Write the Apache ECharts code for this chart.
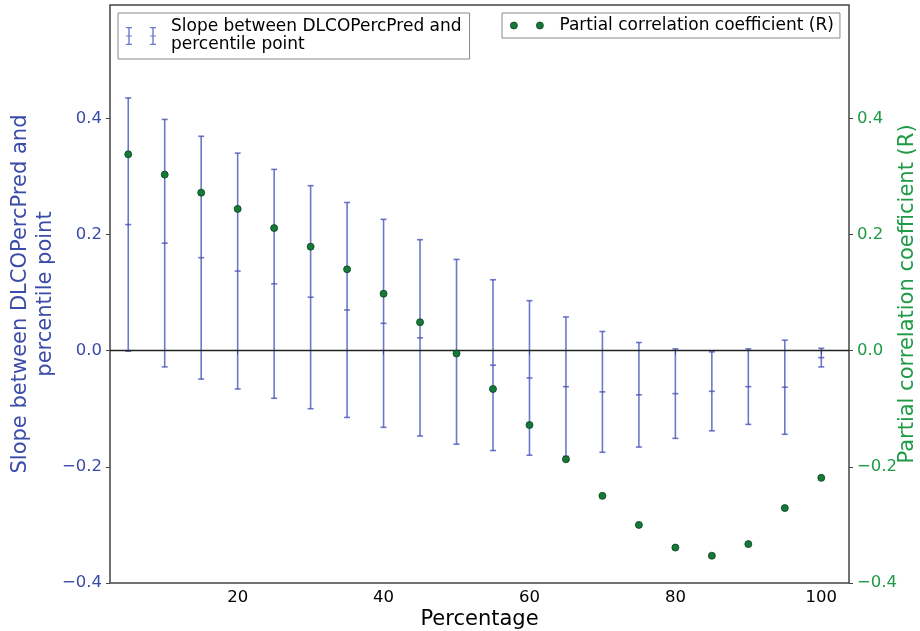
<!DOCTYPE html>
<html>
<head>
<meta charset="utf-8">
<script src="https://cdn.jsdelivr.net/npm/echarts@6/dist/echarts.min.js"></script>
<style>
  html, body { margin: 0; padding: 0; background: #fff; }
  #main { width: 920px; height: 631px; }
</style>
</head>
<body>
<div id="main"></div>
<script>
var percentiles = [5, 10, 15, 20, 25, 30, 35, 40, 45, 50, 55, 60, 65, 70, 75, 80, 85, 90, 95, 100];
// slope estimate (middle tick) and half-length of its error bar
var slopeCenter = [0.217, 0.185, 0.160, 0.137, 0.115, 0.092, 0.070, 0.047, 0.022, -0.002,
                   -0.025, -0.047, -0.062, -0.071, -0.076, -0.074, -0.070, -0.062, -0.063, -0.012];
var slopeError = [0.218, 0.213, 0.209, 0.203, 0.197, 0.192, 0.185, 0.179, 0.169, 0.159,
                  0.147, 0.133, 0.120, 0.104, 0.090, 0.077, 0.068, 0.065, 0.081, 0.016];
var partialR = [0.338, 0.303, 0.272, 0.244, 0.211, 0.179, 0.140, 0.098, 0.049, -0.005,
                -0.066, -0.128, -0.187, -0.250, -0.300, -0.339, -0.353, -0.333, -0.271, -0.219];
var xTicks = [20, 40, 60, 80, 100];
var yTicks = [-0.4, -0.2, 0.0, 0.2, 0.4];

var slopeName = 'Slope between DLCOPercPred and percentile point';
var rName = 'Partial correlation coefficient (R)';
var font = 'DejaVu Sans';
var blue = '#3b4ba8';
var green = '#1f9a45';
var barColor = 'rgba(60, 76, 182, 0.75)';

var errData = percentiles.map(function (p, i) {
    return [p, slopeCenter[i], slopeError[i]];
});
var rData = percentiles.map(function (p, i) {
    return [p, partialR[i]];
});

function renderErrorBar(params, api) {
    var x = api.value(0), c = api.value(1), e = api.value(2);
    var top = api.coord([x, c + e]);
    var mid = api.coord([x, c]);
    var bot = api.coord([x, c - e]);
    var hw = 3;
    var style = { stroke: barColor, lineWidth: 1.6 };
    return {
        type: 'group',
        children: [
            { type: 'line', shape: { x1: top[0], y1: top[1], x2: bot[0], y2: bot[1] }, style: style },
            { type: 'line', shape: { x1: top[0] - hw, y1: top[1], x2: top[0] + hw, y2: top[1] }, style: style },
            { type: 'line', shape: { x1: mid[0] - hw, y1: mid[1], x2: mid[0] + hw, y2: mid[1] }, style: style },
            { type: 'line', shape: { x1: bot[0] - hw, y1: bot[1], x2: bot[0] + hw, y2: bot[1] }, style: style }
        ]
    };
}

function tickFmt(v) {
    return v.toFixed(1).replace('-', '\u2212');
}

// legend icons: two error bars / two dots, last tiny rect only stretches the box
var errIcon = 'path://M2.3,0h1.4v18h-1.4z M0,0h6v1.2h-6z M0,16.8h6v1.2h-6z M0,8.4h6v1.2h-6z ' +
    'M26.3,0h1.4v18h-1.4z M24,0h6v1.2h-6z M24,16.8h6v1.2h-6z M24,8.4h6v1.2h-6z M39.99,17.99h0.01v0.01h-0.01z';
var dotIcon = 'path://M0,3.5a3.5,3.5 0 1,0 7,0a3.5,3.5 0 1,0 -7,0z ' +
    'M26,3.5a3.5,3.5 0 1,0 7,0a3.5,3.5 0 1,0 -7,0z M43.99,6.99h0.01v0.01h-0.01z';

var myChart = echarts.init(document.getElementById('main'), null, { renderer: 'canvas' });
var option = {
    animation: false,
    textStyle: { fontFamily: font },
    grid: {
        left: 110, right: 71, top: 5, bottom: 48,
        outerBoundsMode: 'none',
        containLabel: false,
        show: true, borderColor: '#444', borderWidth: 1.5, backgroundColor: 'transparent'
    },
    legend: [
        {
            data: [{ name: slopeName, icon: errIcon, itemStyle: { color: barColor } }],
            left: 118, top: 13,
            itemWidth: 40, itemHeight: 18,
            padding: [5, 8, 5, 8],
            borderColor: '#888', borderWidth: 1, borderRadius: 0, backgroundColor: '#fff',
            textStyle: { fontFamily: font, fontSize: 17, color: '#000', lineHeight: 18 },
            formatter: function () { return 'Slope between DLCOPercPred and\npercentile point'; }
        },
        {
            data: [{ name: rName, icon: dotIcon, itemStyle: { color: '#137a38', borderColor: '#0b3f1d', borderWidth: 0.8 } }],
            left: 502, top: 13,
            itemWidth: 44, itemHeight: 7,
            padding: [4, 6, 4, 8],
            borderColor: '#888', borderWidth: 1, borderRadius: 0, backgroundColor: '#fff',
            textStyle: { fontFamily: font, fontSize: 17, color: '#000' }
        }
    ],
    xAxis: [
        {
            type: 'value', min: 2.5, max: 103.8,
            name: 'Percentage', nameLocation: 'middle', nameGap: 26, nameMoveOverlap: false,
            nameTextStyle: { fontFamily: font, fontSize: 21, color: '#000' },
            axisLine: { show: false },
            axisTick: { show: true, inside: false, length: 4, customValues: xTicks, lineStyle: { color: '#444' } },
            axisLabel: { customValues: xTicks, fontSize: 16.5, color: '#000', margin: 6 },
            splitLine: { show: false }
        },
        {
            type: 'value', min: 2.5, max: 103.8, position: 'top',
            axisLine: { show: false },
            axisTick: { show: true, inside: true, length: 4, customValues: xTicks, lineStyle: { color: '#444' } },
            axisLabel: { show: false },
            splitLine: { show: false }
        }
    ],
    yAxis: [
        {
            type: 'value', min: -0.4, max: 0.595, position: 'left',
            name: 'Slope between DLCOPercPred and\npercentile point',
            nameLocation: 'middle', nameRotate: 90, nameGap: 52, nameMoveOverlap: false,
            nameTextStyle: { fontFamily: font, fontSize: 21, color: blue, lineHeight: 25 },
            axisLine: { show: false },
            axisTick: { show: true, inside: false, length: 4, customValues: yTicks, lineStyle: { color: '#444' } },
            axisLabel: { customValues: yTicks, fontSize: 16.5, color: blue, margin: 8, formatter: tickFmt },
            splitLine: { show: false }
        },
        {
            type: 'value', min: -0.4, max: 0.595, position: 'right',
            name: rName,
            nameLocation: 'middle', nameRotate: 90, nameGap: 48, nameMoveOverlap: false,
            nameTextStyle: { fontFamily: font, fontSize: 21, color: green },
            axisLine: { show: false },
            axisTick: { show: true, inside: false, length: 4, customValues: yTicks, lineStyle: { color: '#444' } },
            axisLabel: { customValues: yTicks, fontSize: 16.5, color: green, margin: 8, formatter: tickFmt },
            splitLine: { show: false }
        }
    ],
    series: [
        {
            name: slopeName,
            type: 'custom',
            xAxisIndex: 0, yAxisIndex: 0,
            renderItem: renderErrorBar,
            encode: { x: 0, y: [1] },
            data: errData,
            z: 2,
            markLine: {
                silent: true,
                symbol: 'none',
                label: { show: false },
                lineStyle: { color: '#222', width: 1.3, type: 'solid' },
                data: [{ yAxis: 0 }]
            }
        },
        {
            name: rName,
            type: 'scatter',
            xAxisIndex: 0, yAxisIndex: 1,
            symbolSize: 7,
            itemStyle: { color: '#137a38', borderColor: '#0b3f1d', borderWidth: 0.8, opacity: 1 },
            data: rData,
            z: 5
        }
    ]
};
myChart.setOption(option);
</script>
</body>
</html>
